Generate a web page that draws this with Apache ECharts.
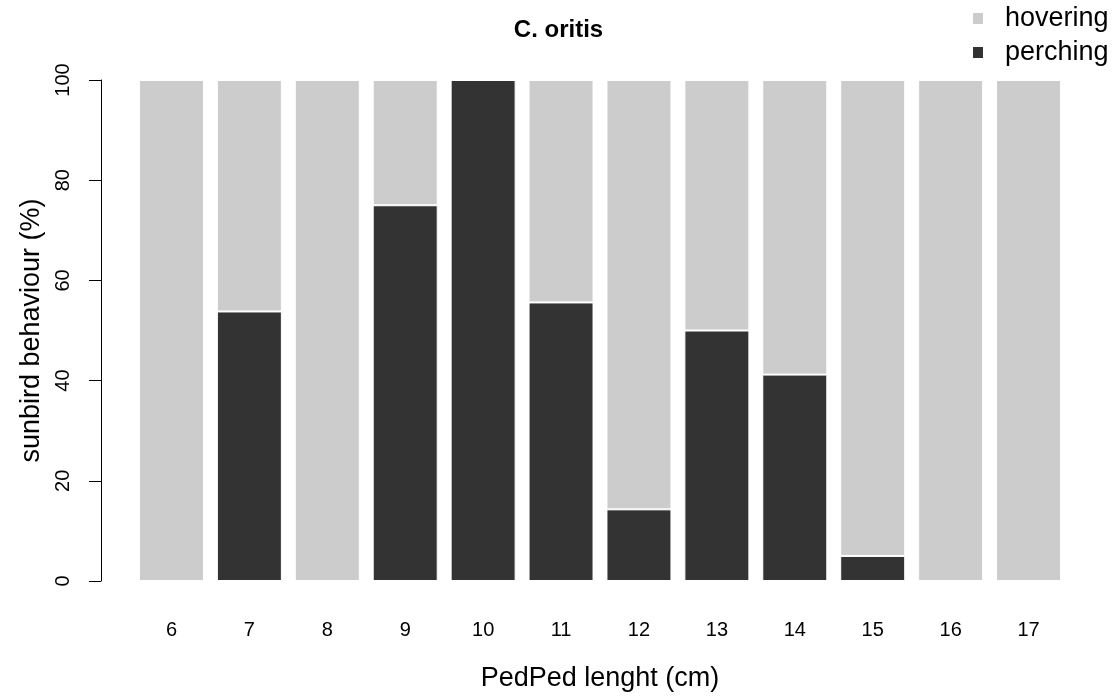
<!DOCTYPE html>
<html>
<head>
<meta charset="utf-8">
<script src="https://cdn.jsdelivr.net/npm/echarts@6/dist/echarts.min.js"></script>
<style>
  html, body { margin: 0; padding: 0; background: #ffffff; }
  #chart { width: 1117px; height: 699px; }
</style>
</head>
<body>
<div id="chart"></div>
<script>
// Pedicel length classes (cm)
const categories = ['6', '7', '8', '9', '10', '11', '12', '13', '14', '15', '16', '17'];
// Share of visits (%) by behaviour
const perching = [0, 53.8, 0, 75, 100, 55.6, 14.3, 50, 41.2, 5, 0, 0];
const hovering = [100, 46.2, 100, 25, 0, 44.4, 85.7, 50, 58.8, 95, 100, 100];
// Y axis ticks
const yTicks = { min: 0, max: 100, interval: 20 };

const FONT = '"Liberation Sans", Arial, Helvetica, sans-serif';

const chart = echarts.init(document.getElementById('chart'), null, { renderer: 'canvas' });

chart.setOption({
  animation: false,
  backgroundColor: '#ffffff',
  textStyle: { fontFamily: FONT, color: '#000000' },
  title: {
    text: 'C. oritis',
    left: 'center',
    top: 18,
    padding: 0,
    textStyle: { fontFamily: FONT, fontSize: 24, fontWeight: 'bold', color: '#000000' }
  },
  legend: {
    orient: 'vertical',
    left: 971,
    top: 5,
    padding: 0,
    itemWidth: 12,
    itemHeight: 13,
    itemGap: 7,
    icon: 'rect',
    data: ['hovering', 'perching'],
    textStyle: {
      fontFamily: FONT, fontSize: 27, color: '#000000',
      lineHeight: 26, padding: [0, 0, 0, 16]
    }
  },
  grid: { left: 132.5, right: 49.5, top: 80, bottom: 118, containLabel: false },
  xAxis: {
    type: 'category',
    data: categories,
    axisLine: { show: false },
    axisTick: { show: false },
    axisLabel: { margin: 39, fontFamily: FONT, fontSize: 20, color: '#000000' },
    name: 'PedPed lenght (cm)',
    nameLocation: 'middle',
    nameGap: 84,
    nameTextStyle: { fontFamily: FONT, fontSize: 27, color: '#000000' }
  },
  yAxis: {
    type: 'value',
    min: yTicks.min,
    max: yTicks.max,
    interval: yTicks.interval,
    offset: 31.5,
    splitLine: { show: false },
    axisLine: { show: true, lineStyle: { color: '#000000', width: 1 } },
    axisTick: { show: true, length: 12, lineStyle: { color: '#000000', width: 1 } },
    axisLabel: { rotate: 90, margin: 28, fontFamily: FONT, fontSize: 20, color: '#000000' },
    name: 'sunbird behaviour (%)',
    nameLocation: 'middle',
    nameGap: 54,
    nameTextStyle: { fontFamily: FONT, fontSize: 27, color: '#000000' }
  },
  series: [
    {
      name: 'perching',
      type: 'bar',
      stack: 'behaviour',
      data: perching,
      barWidth: 65,
      itemStyle: { color: '#333333', borderColor: '#ffffff', borderWidth: 1 }
    },
    {
      name: 'hovering',
      type: 'bar',
      stack: 'behaviour',
      data: hovering,
      barWidth: 65,
      itemStyle: { color: '#cccccc', borderColor: '#ffffff', borderWidth: 1 }
    }
  ]
});
</script>
</body>
</html>
